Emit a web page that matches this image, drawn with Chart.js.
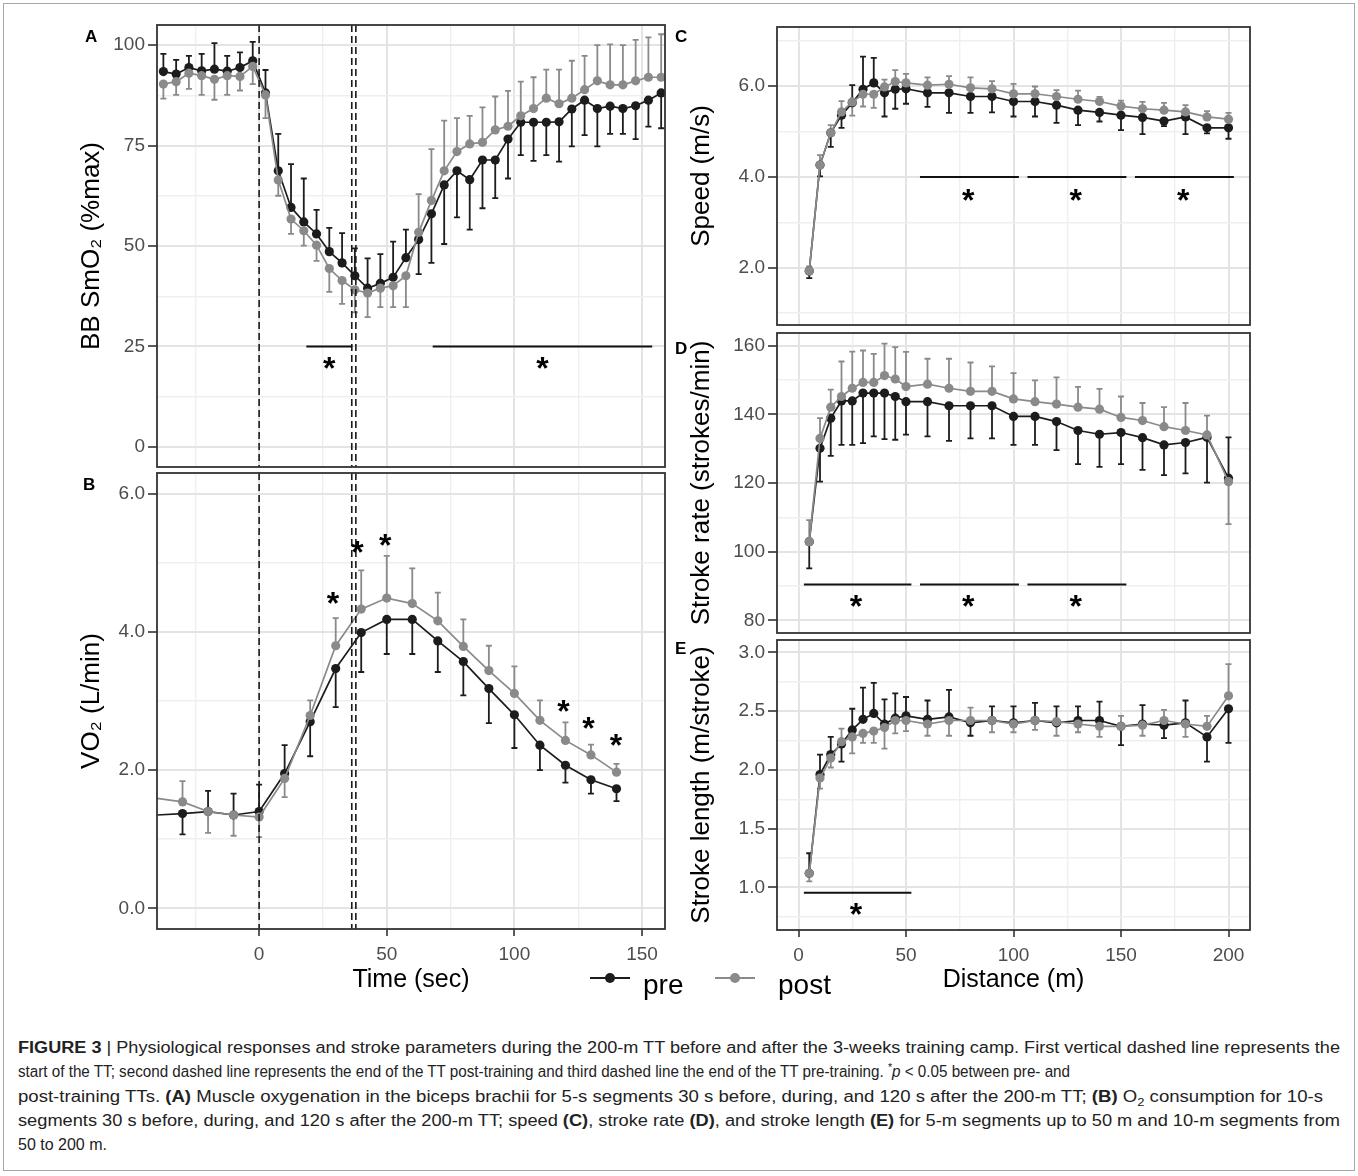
<!DOCTYPE html>
<html>
<head>
<meta charset="utf-8">
<script src="https://cdn.jsdelivr.net/npm/chart.js@4.4.1/dist/chart.umd.min.js"></script>
<style>
  body { margin: 0; background: #fff; }
  #fig { position: relative; width: 1358px; height: 1176px; overflow: hidden;
         font-family: "Liberation Sans", Arial, sans-serif; color: #000; }
  #frame { position: absolute; left: 3px; top: 3px; width: 1350px; height: 1166px; border: 1px solid #a8a8a8; }
  canvas { position: absolute; }
  .tag { position: absolute; font-weight: bold; font-size: 17px; line-height: 17px; }
  .key { position: absolute; height: 2px; width: 40px; }
  .dot { position: absolute; width: 10px; height: 10px; border-radius: 50%; }
  .lab { position: absolute; font-size: 28px; line-height: 28px; }
  #caption { position: absolute; left: 18px; top: 1036px; font-size: 16px; color: #222; }
  #caption div { white-space: nowrap; height: 24.3px; line-height: 24.3px; transform-origin: 0 0; }
  #caption sup, #caption sub { line-height: 0; font-size: 70%; }
</style>
</head>
<body>
<div id="fig">
  <div id="frame"></div>
  <canvas id="chartA" width="635" height="460" style="left:40px;top:15px"></canvas>
  <canvas id="chartB" width="635" height="562" style="left:40px;top:463px"></canvas>
  <canvas id="chartC" width="600" height="316" style="left:660px;top:17px"></canvas>
  <canvas id="chartD" width="600" height="318" style="left:660px;top:323px"></canvas>
  <canvas id="chartE" width="600" height="395" style="left:660px;top:630px"></canvas>
  <div class="tag" style="left:85px;top:28px">A</div>
  <div class="tag" style="left:83px;top:476px">B</div>
  <div class="tag" style="left:675px;top:28px">C</div>
  <div class="tag" style="left:675px;top:340px">D</div>
  <div class="tag" style="left:675px;top:640px">E</div>
  <div id="legend"></div>
  <div id="caption">
    <div><span><b>FIGURE 3</b> | Physiological responses and stroke parameters during the 200-m TT before and after the 3-weeks training camp. First vertical dashed line represents the</span></div>
    <div><span>start of the TT; second dashed line represents the end of the TT post-training and third dashed line the end of the TT pre-training. <sup>*</sup><i>p</i> &lt; 0.05 between pre- and</span></div>
    <div><span>post-training TTs. <b>(A)</b> Muscle oxygenation in the biceps brachii for 5-s segments 30 s before, during, and 120 s after the 200-m TT; <b>(B)</b> O<sub>2</sub> consumption for 10-s</span></div>
    <div><span>segments 30 s before, during, and 120 s after the 200-m TT; speed <b>(C)</b>, stroke rate <b>(D)</b>, and stroke length <b>(E)</b> for 5-m segments up to 50 m and 10-m segments from</span></div>
    <div><span>50 to 200 m.</span></div>
  </div>
</div>
<script>
// series names
const groups = ['pre', 'post'];

// A: muscle oxygenation, 5-s segments
const aTime = [-37.5, -32.5, -27.5, -22.5, -17.5, -12.5, -7.5, -2.5, 2.5, 7.5, 12.5, 17.5, 22.5, 27.5, 32.5, 37.5, 42.5, 47.5, 52.5, 57.5,
  62.5, 67.5, 72.5, 77.5, 82.5, 87.5, 92.5, 97.5, 102.5, 107.5, 112.5, 117.5, 122.5, 127.5, 132.5, 137.5, 142.5, 147.5, 152.5, 157.5];
const aPre = [93.4, 92.8, 94.4, 93.6, 94.0, 93.5, 94.4, 96.1, 88.1, 68.7, 59.6, 56.0, 53.0, 48.6, 45.8, 42.6, 39.5, 40.7, 42.2, 47.1,
  51.6, 58.0, 65.2, 68.7, 66.5, 71.4, 71.4, 76.6, 80.8, 80.8, 80.8, 80.9, 84.1, 86.3, 84.2, 84.8, 84.2, 84.9, 86.3, 88.1];
const aPost = [90.3, 90.9, 93.0, 92.4, 91.5, 92.4, 92.2, 94.7, 87.6, 66.4, 56.7, 53.8, 50.2, 44.4, 41.4, 39.1, 38.3, 39.5, 40.1, 42.6,
  53.4, 61.3, 68.7, 73.5, 75.4, 75.8, 78.9, 79.8, 82.4, 84.2, 86.8, 85.4, 86.8, 88.9, 91.1, 90.1, 90.1, 91.1, 92.0, 92.0];
// one-sided SD bars: + drawn upwards, - drawn downwards
const aPreSd = [4.4, 3.5, 2.9, 4.2, 6.5, 3.8, 3.8, 4.7, 5.7, 9.2, 10.8, 10.8, 6.0, 5.9, 7.4, 6.8, 7.4, 7.3, 8.9, 7.0,
  -8.6, -12.2, -14.7, -11.6, -12.4, -12.0, -9.5, -9.8, -8.2, -9.6, -8.2, -9.9, -9.3, -8.7, -9.4, -6.9, -6.3, -8.3, -6.6, -8.8];
const aPostSd = [-3.6, -3.3, -3.9, -4.8, -5.1, -4.8, -3.5, -4.4, -5.8, -3.9, -3.7, -3.7, -3.9, -5.8, -5.8, -5.6, -6.0, -4.7, -5.3, -7.8,
  9.5, 12.8, 12.5, 8.3, 7.0, 8.7, 8.3, 8.8, 8.5, 7.8, 7.1, 8.5, 9.3, 8.4, 8.9, 10.1, 9.9, 10.2, 9.9, 10.7];
const aSigBars = [[18.5, 36.5], [68, 154]];
const aSigLevel = 25;
const aStars = [[27.5, 21.5], [111, 21.5]];

// B: VO2, 10-s segments
const bTime = [-40, -30, -20, -10, 0, 10, 20, 30, 40, 50, 60, 70, 80, 90, 100, 110, 120, 130, 140];
const bPre = [1.35, 1.37, 1.40, 1.35, 1.40, 1.95, 2.70, 3.47, 3.99, 4.18, 4.18, 3.87, 3.57, 3.18, 2.80, 2.36, 2.07, 1.86, 1.73];
const bPost = [1.59, 1.54, 1.40, 1.35, 1.32, 1.88, 2.79, 3.80, 4.33, 4.49, 4.41, 4.16, 3.79, 3.44, 3.11, 2.72, 2.43, 2.22, 1.97];
const bPreSd = [0, -0.30, 0.30, 0.31, 0.39, 0.41, -0.50, -0.56, -0.57, -0.50, -0.50, -0.45, -0.49, -0.50, -0.48, -0.36, -0.25, -0.20, -0.18];
const bPostSd = [0, 0.30, -0.31, -0.30, -0.29, -0.27, 0.22, 0.40, 0.56, 0.61, 0.51, 0.41, 0.39, 0.36, 0.39, 0.29, 0.26, 0.15, 0.12];
const bStars = [[28.9, 4.52], [38.5, 5.26], [49.4, 5.36], [119.2, 2.95], [129, 2.71], [139.8, 2.47]];

// TT start, end post-training, end pre-training (s)
const ttMarks = [0, 36.3, 37.9];

// C-E: 5-m segments to 50 m, 10-m segments to 200 m
const dist = [5, 10, 15, 20, 25, 30, 35, 40, 45, 50, 60, 70, 80, 90, 100, 110, 120, 130, 140, 150, 160, 170, 180, 190, 200];

const cPre = [1.93, 4.26, 4.97, 5.36, 5.63, 5.93, 6.07, 5.85, 5.93, 5.94, 5.85, 5.85, 5.77, 5.77, 5.66, 5.66, 5.58, 5.47, 5.42, 5.36, 5.31, 5.23, 5.32, 5.08, 5.08];
const cPost = [1.93, 4.26, 4.97, 5.43, 5.65, 5.82, 5.82, 5.98, 6.10, 6.07, 6.02, 6.04, 5.96, 5.94, 5.83, 5.83, 5.77, 5.71, 5.66, 5.56, 5.50, 5.47, 5.43, 5.32, 5.27];
const cPreSd = [-0.16, -0.25, -0.31, -0.28, 0.39, 0.72, 0.55, -0.52, -0.43, -0.33, -0.31, -0.44, -0.36, -0.35, -0.33, -0.33, -0.39, -0.33, -0.20, -0.33, -0.37, -0.11, -0.38, -0.12, -0.24];
const cPostSd = [0.10, 0.22, 0.17, 0.24, -0.30, -0.27, -0.30, 0.16, 0.25, 0.20, 0.17, 0.18, 0.23, 0.17, 0.22, 0.16, 0.14, 0.19, 0.10, 0.12, 0.15, 0.16, 0.15, 0.13, 0.14];
const cSigBars = [[56.5, 102.5], [106.5, 152.5], [156.5, 202.5]];
const cSigLevel = 4.0;
const cStars = [[79, 3.65], [129, 3.65], [179, 3.65]];

const dPre = [102.9, 130.1, 138.9, 143.9, 143.9, 146.2, 146.2, 146.2, 145.2, 143.7, 143.7, 142.5, 142.5, 142.5, 139.4, 139.4, 137.9, 135.3, 134.2, 134.7, 133.2, 131.1, 131.8, 133.3, 121.4];
const dPost = [102.9, 133.0, 142.1, 145.2, 147.6, 149.3, 149.3, 151.3, 150.3, 148.1, 148.8, 147.6, 146.7, 146.7, 144.5, 143.7, 143.0, 142.1, 141.5, 139.1, 138.2, 136.4, 135.3, 134.0, 120.4];
const dPreSd = [-7.8, -9.7, -11.0, -12.8, -12.8, -14.6, -12.6, -13.4, -12.6, -9.6, -10.1, -10.2, -9.5, -9.5, -8.3, -8.3, -8.3, -9.8, -9.5, -9.2, -9.4, -8.8, -9.0, -13.2, 11.9];
const dPostSd = [6.3, 5.9, 5.1, 10.2, 10.7, 9.3, 8.3, 9.3, 9.3, 10.1, 7.4, 8.6, 8.4, 7.3, 7.5, 6.2, 7.8, 5.9, 5.9, 6.1, 5.1, 5.7, 8.0, 5.6, -12.4];
const dSigBars = [[2.5, 52.5], [56.5, 102.5], [106.5, 152.5]];
const dSigLevel = 90.4;
const dStars = [[26.7, 86.3], [79, 86.3], [129, 86.3]];

const ePre = [1.12, 1.96, 2.13, 2.22, 2.34, 2.43, 2.48, 2.39, 2.44, 2.46, 2.43, 2.45, 2.40, 2.42, 2.40, 2.42, 2.40, 2.42, 2.42, 2.37, 2.39, 2.38, 2.40, 2.28, 2.52];
const ePost = [1.12, 1.93, 2.10, 2.24, 2.28, 2.31, 2.33, 2.36, 2.42, 2.42, 2.39, 2.42, 2.42, 2.42, 2.39, 2.42, 2.41, 2.39, 2.37, 2.37, 2.38, 2.42, 2.39, 2.37, 2.63];
const ePreSd = [0.17, 0.17, 0.15, -0.15, 0.18, 0.27, 0.26, 0.21, 0.21, 0.16, 0.16, 0.23, -0.11, 0.12, 0.14, 0.15, 0.14, 0.12, 0.16, -0.16, 0.16, -0.11, 0.19, -0.21, -0.29];
const ePostSd = [-0.07, -0.09, -0.08, 0.11, -0.14, -0.08, -0.10, -0.18, -0.11, -0.09, -0.10, -0.13, 0.11, -0.10, -0.07, -0.08, -0.12, -0.07, -0.09, 0.09, -0.09, 0.09, -0.11, 0.09, 0.27];
const eSigBars = [[2.5, 52.5]];
const eSigLevel = 0.955;
const eStars = [[26.7, 0.835]];

// axis ticks (major = labelled, minor = grid only)
const timeTicks = [0, 50, 100, 150];
const timeMinor = [-25, 25, 75, 125];
const distTicks = [0, 50, 100, 150, 200];
const distMinor = [25, 75, 125, 175];
const aYTicks = [0, 25, 50, 75, 100];
const aYMinor = [12.5, 37.5, 62.5, 87.5];
const bYTicks = [0, 2, 4, 6];
const bYMinor = [1, 3, 5];
const cYTicks = [2, 4, 6];
const cYMinor = [1, 3, 5, 7];
const dYTicks = [80, 100, 120, 140, 160];
const dYMinor = [90, 110, 130, 150];
const eYTicks = [1.0, 1.5, 2.0, 2.5, 3.0];
const eYMinor = [0.75, 1.25, 1.75, 2.25, 2.75];

const PRE = '#1c1c1c', POST = '#8a8a8a';
const FONT = '"Liberation Sans", Arial, sans-serif';

function series(xs, ys, color, xMin) {
    return {
        data: xs.map((t, i) => ({ x: t, y: ys[i] })),
        borderColor: color,
        backgroundColor: color,
        borderWidth: 1.7,
        pointRadius: (c) => (c.raw && c.raw.x <= xMin ? 0 : 4.6),
        pointBorderWidth: 0,
        pointHoverRadius: 0,
        tension: 0,
        clip: 0
    };
}

function drawBars(ctx, xs, ys, xv, yv, sd, color) {
    ctx.strokeStyle = color;
    ctx.lineWidth = 1.8;
    for (let i = 0; i < xv.length; i++) {
        if (!sd[i] || xv[i] <= xs.min) continue;
        const px = xs.getPixelForValue(xv[i]);
        const y0 = ys.getPixelForValue(yv[i]);
        const y1 = ys.getPixelForValue(yv[i] + sd[i]);
        ctx.beginPath();
        ctx.moveTo(px, y0); ctx.lineTo(px, y1);
        ctx.moveTo(px - 3, y1); ctx.lineTo(px + 3, y1);
        ctx.stroke();
    }
}

function overlay(p) {
    return {
        id: 'overlay',
        beforeDatasetsDraw(chart) {
            const { ctx, chartArea: a, scales: { x, y } } = chart;
            ctx.save();
            ctx.beginPath();
            ctx.rect(a.left, a.top, a.right - a.left, a.bottom - a.top);
            ctx.clip();
            drawBars(ctx, x, y, p.x, p.post, p.postSd, POST);
            drawBars(ctx, x, y, p.x, p.pre, p.preSd, PRE);
            ctx.restore();
        },
        afterDatasetsDraw(chart) {
            const { ctx, chartArea: a, scales: { x, y } } = chart;
            ctx.save();
            // dashed lines: start / end of the TT
            (p.marks || []).forEach(t => {
                const px = x.getPixelForValue(t);
                ctx.strokeStyle = '#1a1a1a';
                ctx.lineWidth = 1.6;
                ctx.setLineDash([7, 4]);
                ctx.beginPath();
                ctx.moveTo(px, a.top); ctx.lineTo(px, a.bottom);
                ctx.stroke();
            });
            ctx.setLineDash([]);
            // significance bars and stars
            (p.sigBars || []).forEach(b => {
                const py = y.getPixelForValue(p.sigLevel);
                ctx.strokeStyle = '#111';
                ctx.lineWidth = 2;
                ctx.beginPath();
                ctx.moveTo(x.getPixelForValue(b[0]), py);
                ctx.lineTo(x.getPixelForValue(b[1]), py);
                ctx.stroke();
            });
            ctx.fillStyle = '#000';
            ctx.font = 'bold 32px ' + FONT;
            ctx.textAlign = 'center';
            ctx.textBaseline = 'alphabetic';
            (p.stars || []).forEach(s => {
                ctx.fillText('*', x.getPixelForValue(s[0]), y.getPixelForValue(s[1]) + 18);
            });
            // panel border
            ctx.strokeStyle = '#333';
            ctx.lineWidth = 1.8;
            ctx.strokeRect(a.left, a.top, a.right - a.left, a.bottom - a.top);
            ctx.restore();
        }
    };
}

function axis(cfg) {
    const major = new Set(cfg.major);
    const all = cfg.major.concat(cfg.minor).sort((m, n) => m - n);
    const isMajor = (c) => c.tick && major.has(c.tick.value);
    return {
        type: 'linear',
        position: cfg.position,
        min: cfg.min,
        max: cfg.max,
        afterBuildTicks: (s) => { s.ticks = all.map(v => ({ value: v })); },
        afterFit: (s) => {
            if (cfg.position === 'left') s.width = cfg.size; else s.height = cfg.size;
            s.paddingLeft = 0; s.paddingRight = 0; s.paddingTop = 0; s.paddingBottom = 0;
        },
        border: { display: false },
        grid: {
            color: (c) => (isMajor(c) ? '#e4e4e4' : '#efefef'),
            lineWidth: (c) => (isMajor(c) ? 2 : 1.4),
            drawTicks: cfg.labels,
            tickLength: cfg.position === 'left' ? 9 : 7,
            tickColor: (c) => (isMajor(c) ? '#333' : 'rgba(0,0,0,0)'),
            tickWidth: 1.6
        },
        ticks: {
            display: cfg.labels,
            autoSkip: false,
            maxRotation: 0,
            padding: cfg.position === 'left' ? 3 : 7,
            color: '#4d4d4d',
            font: { family: FONT, size: 19 },
            callback: (v) => (major.has(v) ? v.toFixed(cfg.dec) : '')
        },
        title: {
            display: !!cfg.title,
            text: cfg.title,
            color: '#000',
            font: { family: FONT, size: cfg.position === 'left' ? 26 : 25, lineHeight: 1 },
            padding: cfg.titlePad
        }
    };
}

function panel(id, p) {
    new Chart(document.getElementById(id), {
        type: 'line',
        data: {
            datasets: [
                series(p.x, p.post, POST, p.xAxis.min),
                series(p.x, p.pre, PRE, p.xAxis.min)
            ]
        },
        options: {
            responsive: false,
            animation: false,
            events: [],
            layout: { padding: { top: 10, right: 10, left: 0, bottom: 0 } },
            plugins: { legend: { display: false }, tooltip: { enabled: false } },
            scales: { x: axis(p.xAxis), y: axis(p.yAxis) }
        },
        plugins: [overlay(p)]
    });
}

const timeAxis = (labels) => ({
    position: 'bottom', min: -40, max: 159, major: timeTicks, minor: timeMinor, dec: 0,
    labels: labels, size: labels ? 96 : 8,
    title: labels ? 'Time (sec)' : '', titlePad: { top: 0, bottom: 32 }
});
const distAxis = (labels) => ({
    position: 'bottom', min: -10, max: 210, major: distTicks, minor: distMinor, dec: 0,
    labels: labels, size: labels ? 95 : 8,
    title: labels ? 'Distance (m)' : '', titlePad: { top: 0, bottom: 32 }
});

panel('chartA', {
    x: aTime, pre: aPre, post: aPost, preSd: aPreSd, postSd: aPostSd,
    marks: ttMarks, sigBars: aSigBars, sigLevel: aSigLevel, stars: aStars,
    xAxis: timeAxis(false),
    yAxis: { position: 'left', min: -5, max: 105, major: aYTicks, minor: aYMinor, dec: 0, labels: true, size: 117,
        title: 'BB SmO\u2082 (%max)', titlePad: { top: 39, bottom: 0 } }
});
panel('chartB', {
    x: bTime, pre: bPre, post: bPost, preSd: bPreSd, postSd: bPostSd,
    marks: ttMarks, stars: bStars,
    xAxis: timeAxis(true),
    yAxis: { position: 'left', min: -0.3, max: 6.3, major: bYTicks, minor: bYMinor, dec: 1, labels: true, size: 117,
        title: 'VO\u2082 (L/min)', titlePad: { top: 39, bottom: 0 } }
});
panel('chartC', {
    x: dist, pre: cPre, post: cPost, preSd: cPreSd, postSd: cPostSd,
    sigBars: cSigBars, sigLevel: cSigLevel, stars: cStars,
    xAxis: distAxis(false),
    yAxis: { position: 'left', min: 0.74, max: 7.3, major: cYTicks, minor: cYMinor, dec: 1, labels: true, size: 117,
        title: 'Speed (m/s)', titlePad: { top: 29, bottom: 0 } }
});
panel('chartD', {
    x: dist, pre: dPre, post: dPost, preSd: dPreSd, postSd: dPostSd,
    sigBars: dSigBars, sigLevel: dSigLevel, stars: dStars,
    xAxis: distAxis(false),
    yAxis: { position: 'left', min: 76.3, max: 163.7, major: dYTicks, minor: dYMinor, dec: 0, labels: true, size: 117,
        title: 'Stroke rate (strokes/min)', titlePad: { top: 29, bottom: 0 } }
});
panel('chartE', {
    x: dist, pre: ePre, post: ePost, preSd: ePreSd, postSd: ePostSd,
    sigBars: eSigBars, sigLevel: eSigLevel, stars: eStars,
    xAxis: distAxis(true),
    yAxis: { position: 'left', min: 0.637, max: 3.105, major: eYTicks, minor: eYMinor, dec: 1, labels: true, size: 117,
        title: 'Stroke length (m/stroke)', titlePad: { top: 29, bottom: 0 } }
});

// legend below the panels
const legend = document.getElementById('legend');
const keyLeft = [590, 715];
const labLeft = [643, 778];
[PRE, POST].forEach((col, i) => {
    legend.insertAdjacentHTML('beforeend',
        '<div class="key" style="left:' + keyLeft[i] + 'px;top:977px;background:' + col + '"></div>' +
        '<div class="dot" style="left:' + (keyLeft[i] + 15) + 'px;top:973px;background:' + col + '"></div>' +
        '<div class="lab" style="left:' + labLeft[i] + 'px;top:971px">' + groups[i] + '</div>');
});

// fit each caption line to the width it has in the original
const capWidths = [1322, 1052, 1305, 1322];
document.querySelectorAll('#caption div').forEach((line, i) => {
    if (i >= capWidths.length) return;
    const w = line.firstElementChild.getBoundingClientRect().width;
    line.style.transform = 'scaleX(' + (capWidths[i] / w) + ')';
});
</script>
</body>
</html>
